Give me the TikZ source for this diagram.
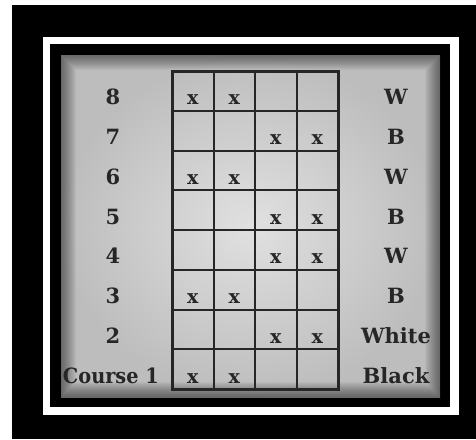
\documentclass[tikz,border=0pt]{standalone}
\usepackage{fontspec}
\newfontfamily\bookfont{DejaVu Serif}
\tikzset{
  gridline/.style={line width=2pt, draw=black!85},
  crossmark/.style={font=\bookfont\fontsize{19}{20}\selectfont\bfseries, text=black!85, anchor=base},
  rowlabel/.style={font=\bookfont\fontsize{21}{24}\selectfont\bfseries, text=black!85, anchor=base}
}
\begin{document}
\begin{tikzpicture}[x=1pt,y=-1pt]
\useasboundingbox (0,0) rectangle (476,439);
\fill[white] (0,0) rectangle (476,439);
\fill[black] (12,5) rectangle (476,439);
\fill[white] (43,37) rectangle (459,415);
\fill[black] (50,44) rectangle (450,407);
\begin{scope}
  \clip (61,55) rectangle (440,397);
  \shade[inner color=black!12, outer color=black!26] (61,55) rectangle (440,397);
  % darker rim of the page
  \foreach \w in {2,4,...,30}
    \draw[black, opacity=0.035, line width=\w pt] (61,55) rectangle (440,397);
\end{scope}

% grid
\coordinate (TL) at (172,71);
\coordinate (BR) at (338,389);
\foreach \c in {1,2,3} \draw[gridline] (172+41.5*\c,71) -- (172+41.5*\c,389);
\foreach \r in {1,...,7} \draw[gridline] (172,71+39.75*\r) -- (338,71+39.75*\r);
\draw[gridline, line width=3pt] (TL) rectangle (BR);

% marks, row 8 at top
\foreach \r/\a/\b in {8/1/2,7/3/4,6/1/2,5/3/4,4/3/4,3/1/2,2/3/4,1/1/2}{
  \pgfmathsetmacro{\yb}{71+39.75*(9-\r)-6}
  \node[crossmark] (x\r a) at (172+41.5*\a-20.75,\yb) {x};
  \node[crossmark] (x\r b) at (172+41.5*\b-20.75,\yb) {x};
}

% left labels
\foreach \r in {2,...,8}{
  \pgfmathsetmacro{\yb}{71+39.75*(9-\r)-6}
  \node[rowlabel] (n\r) at (113,\yb) {\r};
}
\node[rowlabel, anchor=base east, inner xsep=0pt, xscale=0.92] (n1) at (159,383) {Course 1};

% right labels
\foreach \r/\t in {8/W,7/B,6/W,5/B,4/W,3/B,2/White,1/Black}{
  \pgfmathsetmacro{\yb}{71+39.75*(9-\r)-6}
  \node[rowlabel] (c\r) at (396,\yb) {\t};
}
\end{tikzpicture}
\end{document}
